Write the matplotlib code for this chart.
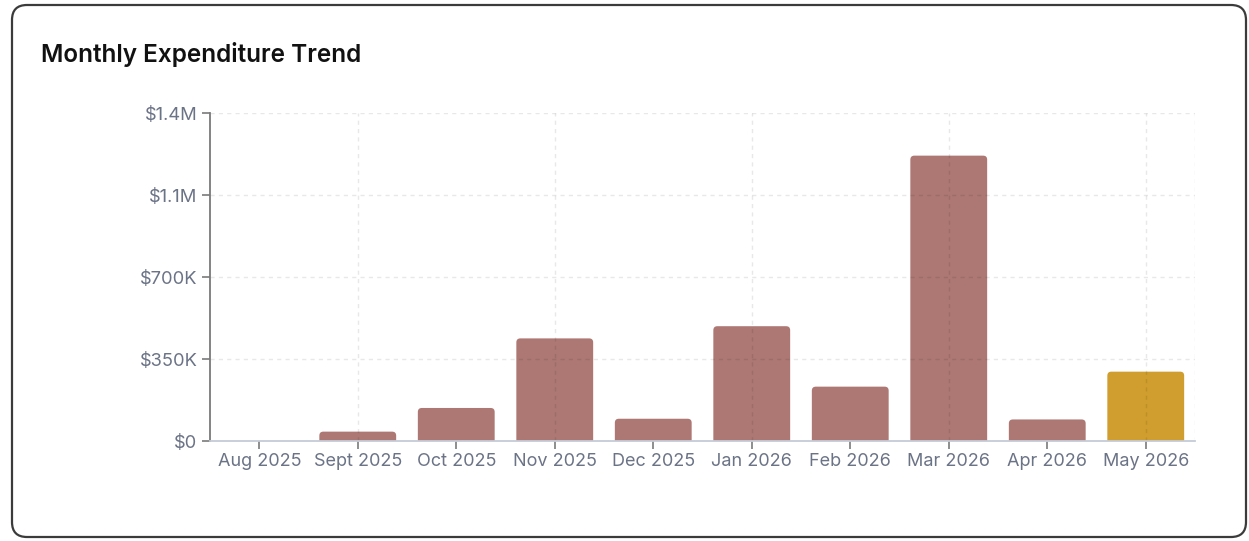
import matplotlib
matplotlib.use("Agg")
import matplotlib.pyplot as plt
from matplotlib.patches import FancyBboxPatch
from matplotlib.ticker import FixedLocator, FuncFormatter

plt.rcParams['font.family'] = ['Inter', 'DejaVu Sans']

months = ["Aug 2025", "Sept 2025", "Oct 2025", "Nov 2025", "Dec 2025",
          "Jan 2026", "Feb 2026", "Mar 2026", "Apr 2026", "May 2026"]
expenditure = [0, 40000, 141000, 438000, 95000, 490000, 232000, 1218000, 92000, 296000]
highlight_month = "May 2026"
y_ticks = [0, 350000, 700000, 1050000, 1400000]

BAR_COLOR = "#ad7873"
HIGHLIGHT_COLOR = "#d09e2e"
TEXT_COLOR = "#6b7386"

W, H, DPI = 1249, 541, 100
fig = plt.figure(figsize=(W / DPI, H / DPI), dpi=DPI)
fig.patch.set_facecolor("white")

# card outline
card = FancyBboxPatch((12 / W, 4 / H), (1246 - 12) / W, (536 - 4) / H,
                      boxstyle="round,pad=0,rounding_size=0.012",
                      mutation_aspect=W / H,
                      transform=fig.transFigure, facecolor="none",
                      edgecolor="#3b3b3b", linewidth=1.6, zorder=-1)
fig.patches.append(card)

fig.text(41 / W, 1 - 62 / H, "Monthly Expenditure Trend", fontsize=17.5,
         fontweight="semibold", color="#111111", va="baseline", ha="left")

left, right, top, bottom = 210, 1195, 113, 441
ax = fig.add_axes([left / W, 1 - bottom / H, (right - left) / W, (bottom - top) / H])
ax.set_facecolor("none")

n = len(months)
x = list(range(n))
ax.set_xlim(-0.5, n - 0.5)
ax.set_ylim(0, y_ticks[-1])

# rounded-top bars: extend below zero by the radius so the axes clip the lower corners
width = 0.78
px_x = n / (right - left)
px_y = y_ticks[-1] / (bottom - top)
radius_px = 4
r = radius_px * px_x
aspect = px_y / px_x
for xi, m, v in zip(x, months, expenditure):
    if v <= 0:
        continue
    color = HIGHLIGHT_COLOR if m == highlight_month else BAR_COLOR
    extra = radius_px * px_y
    patch = FancyBboxPatch((xi - width / 2, -extra), width, v + extra,
                           boxstyle=f"round,pad=0,rounding_size={r}",
                           mutation_aspect=aspect, facecolor=color,
                           edgecolor="none", zorder=2, clip_on=True)
    ax.add_patch(patch)

# dashed grid
grid_kw = dict(color="#000000", alpha=0.09, linewidth=1.0, dashes=(3, 3), zorder=3)
for yt in y_ticks[1:]:
    ax.axhline(yt, **grid_kw)
for xi in x[1::2]:
    ax.axvline(xi, **grid_kw)
ax.axvline(n - 0.5, **grid_kw)


def money(v, _pos=None):
    if v == 0:
        return "$0"
    if v >= 1_000_000:
        return "${:.1f}M".format(round(v / 1_000_000 + 1e-9, 1))
    return "${:.0f}K".format(v / 1000)


ax.yaxis.set_major_locator(FixedLocator(y_ticks))
ax.yaxis.set_major_formatter(FuncFormatter(money))
ax.set_xticks(x)
ax.set_xticklabels(months)

for s in ["top", "right"]:
    ax.spines[s].set_visible(False)
ax.spines["left"].set_color("#7a7a7a")
ax.spines["left"].set_linewidth(1.3)
ax.spines["bottom"].set_color("#c5ccd6")
ax.spines["bottom"].set_linewidth(1.3)
ax.spines["left"].set_zorder(4)
ax.spines["bottom"].set_zorder(4)

ax.tick_params(axis="y", length=6, width=1.2, color="#7a7a7a", pad=3,
               labelsize=13.2, labelcolor=TEXT_COLOR)
ax.tick_params(axis="x", length=6, width=1.2, color="#7a7a7a", pad=3,
               labelsize=13, labelcolor=TEXT_COLOR)

fig.savefig("out.png", dpi=DPI, facecolor="white")
